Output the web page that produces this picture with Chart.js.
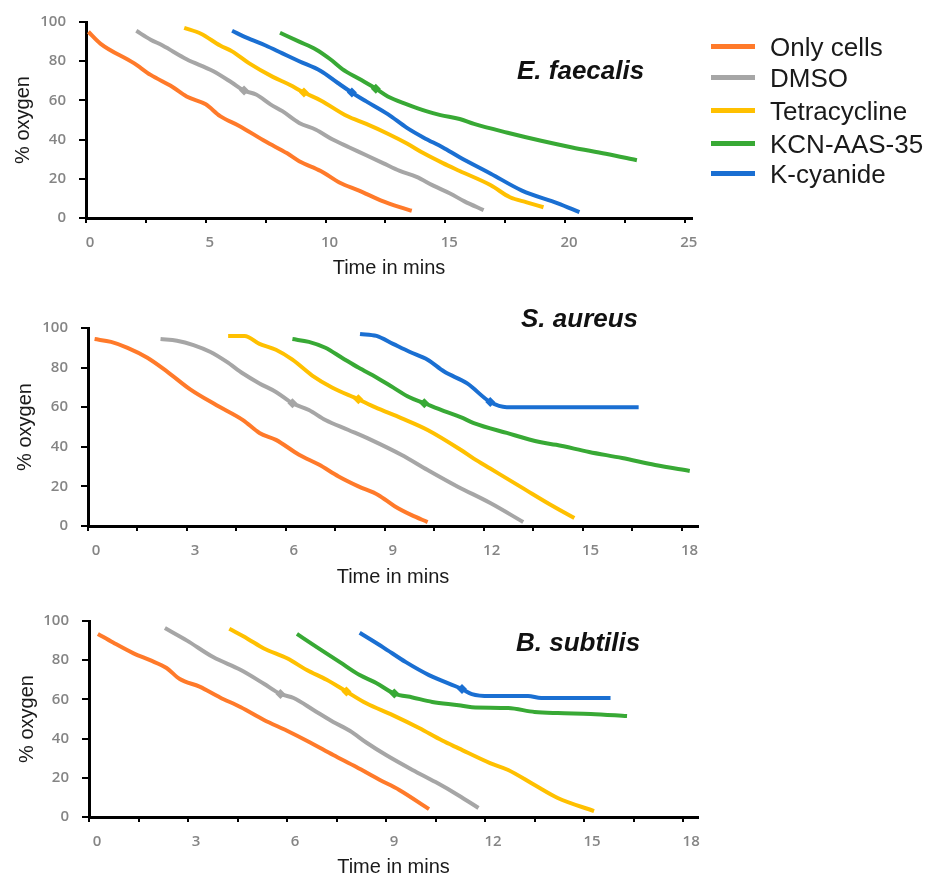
<!DOCTYPE html>
<html>
<head>
<meta charset="utf-8">
<script src="https://cdn.jsdelivr.net/npm/chart.js@4.4.1/dist/chart.umd.min.js"></script>
<style>
  body { margin: 0; width: 927px; height: 877px; overflow: hidden; background: #fff; font-family: "Liberation Sans", Arial, sans-serif; }
  canvas { position: absolute; left: 0; }
  .species { position: absolute; font: italic bold 26px "Liberation Sans", Arial, sans-serif; line-height: 26px; color: #111; white-space: nowrap; }
  .item { position: absolute; left: 711px; width: 216px; height: 26px; }
  .item .swatch { position: absolute; left: 0; top: 10px; width: 44px; height: 5px; }
  .item .lbl { position: absolute; left: 59px; top: 0; font-size: 26px; line-height: 26px; color: #1a1a1a; white-space: nowrap; }
</style>
</head>
<body>
<canvas id="efCanvas"></canvas>
<canvas id="saCanvas"></canvas>
<canvas id="bsCanvas"></canvas>
<div class="species" style="left:517px; top:57px;">E. faecalis</div>
<div class="species" style="left:521px; top:305px;">S. aureus</div>
<div class="species" style="left:516px; top:629px;">B. subtilis</div>
<div id="legend"></div>
<script>
const seriesNames = ['Only cells', 'DMSO', 'Tetracycline', 'KCN-AAS-35', 'K-cyanide'];
const seriesColors = ['#FF7A2A', '#A6A6A6', '#FFC000', '#38A935', '#1A6FD2'];
const yTicks = [0, 20, 40, 60, 80, 100];

// E. faecalis  [time (min), % oxygen]
const efOnlyCells = [[0.1,95],[0.6,89],[2.0,79],[2.7,73],[3.6,67],[4.2,62],[5.0,58],[5.6,52],[6.4,47],[7.5,39],[8.4,33],[8.9,29],[9.8,24],[10.6,18],[11.4,14],[12.3,9],[13.1,5.5],[13.6,3.7]];
const efDmso = [[2.1,95.5],[2.7,91],[3.2,88],[4.2,81],[5.3,75],[6.1,69],[6.6,65],[7.1,63],[7.7,58],[8.2,54.5],[8.9,48.5],[9.6,45],[10.3,40],[11.0,36],[11.7,32],[12.4,28],[13.1,24],[13.8,21],[14.5,16.5],[15.2,12.5],[15.8,8.5],[16.6,4]];
const efTetra = [[4.1,97],[4.8,94],[5.6,88],[6.1,85],[6.8,79],[7.8,72],[8.5,68],[9.1,64],[9.8,60],[10.9,52],[11.7,48],[12.6,43],[13.4,38],[14.1,33],[14.9,28],[15.6,24],[16.9,16.7],[17.7,10.6],[18.4,8],[19.1,5.5]];
const efKcnAas = [[8.1,94.5],[8.9,90],[9.6,86],[10.2,81],[10.7,76],[11.4,71],[12.1,66],[12.6,62],[13.4,58],[14.2,54.5],[14.8,52.5],[15.6,50.5],[16.2,48],[17.6,43.5],[19.0,39.4],[20.3,36],[21.7,32.8],[23.0,29.5]];
const efKcn = [[6.1,95.5],[6.7,92],[7.5,88],[8.2,84],[8.9,80],[9.8,75],[10.5,69],[11.1,64],[11.7,59.5],[12.6,53],[13.4,46],[14.1,41],[14.9,36],[15.6,31],[16.9,22.6],[18.2,14],[19.7,7.5],[20.6,3]];
const efMarkers = [null, 6.6, 9.1, 12.1, 11.1];

// S. aureus
const saOnlyCells = [[0.2,94.4],[0.7,93],[1.2,90],[1.8,85],[2.4,78],[3.1,69],[3.9,61],[4.7,53.5],[5.2,47],[5.7,43.5],[6.4,36],[7.0,31],[7.6,25],[8.2,20],[8.8,15.7],[9.3,10],[9.8,5.6],[10.3,2]];
const saDmso = [[2.2,94.4],[2.7,93.6],[3.2,91.4],[3.7,88],[4.2,83],[4.7,77],[5.2,72],[5.7,67.7],[6.2,62],[6.7,58.6],[7.2,53.5],[7.9,48.5],[8.6,43.4],[9.5,36],[10.3,28.3],[11.2,20],[12.2,11.6],[13.2,2]];
const saTetra = [[4.25,96],[4.75,96],[5.2,92],[5.7,89],[6.2,84],[6.8,76],[7.4,70],[8.2,64],[8.7,60],[9.5,54.5],[10.3,48.5],[11.3,38.5],[11.7,34],[12.2,29],[13.2,19],[14.0,11],[14.75,4]];
const saKcnAas = [[6.2,94.4],[6.7,93],[7.2,90],[7.7,85],[8.2,80],[8.75,75],[9.25,70],[9.75,65],[10.2,62],[10.8,58],[11.3,55],[11.7,52],[12.7,47],[13.7,42.4],[14.2,41],[15.2,37.4],[16.2,34.3],[17.2,30.8],[18.25,27.8]];
const saKcn = [[8.25,97],[8.75,96],[9.25,92],[9.75,88],[10.3,84],[10.8,78],[11.5,72],[12.2,62.6],[12.7,60],[16.7,60]];
const saMarkers = [null, 6.2, 8.2, 10.2, 12.2];

// B. subtilis
const bsOnlyCells = [[0.27,93.4],[0.73,89],[1.35,83.5],[1.85,80],[2.35,76],[2.75,70.4],[3.35,66.5],[3.97,61],[4.6,56],[5.3,49.5],[6.0,44],[6.7,38],[7.4,31.6],[8.1,25.5],[8.8,19],[9.4,13.8],[10.3,4]];
const bsDmso = [[2.3,96.4],[2.97,90],[3.76,81.6],[4.6,75],[5.3,68],[5.8,62.8],[6.2,60.7],[6.8,54.6],[7.4,48.5],[7.9,44],[8.4,38],[9.0,31.6],[9.8,24],[10.5,17.8],[11.2,11],[11.8,4.6]];
const bsTetra = [[4.25,96],[4.8,91],[5.3,86],[6.0,81],[6.6,75],[7.2,70],[7.8,64],[8.4,58],[9.2,52],[10.0,45.4],[10.7,39],[11.2,35],[12.15,27.5],[12.7,24],[13.5,16.3],[14.2,9.7],[15.3,3]];
const bsKcnAas = [[6.3,93.4],[6.9,86.7],[7.6,79],[8.2,72.4],[8.7,68.4],[9.25,63],[9.8,61],[10.4,58.7],[11.2,57],[11.6,56],[12.7,55.6],[13.5,53.6],[14.2,53],[15.2,52.6],[16.3,51.5]];
const bsKcn = [[8.2,94],[8.9,86.7],[9.6,79],[10.3,72.4],[11.3,65.3],[11.6,62.7],[12.15,61.7],[13.3,61.7],[13.7,60.7],[15.8,60.7]];
const bsMarkers = [null, 5.8, 7.8, 9.25, 11.3];

const tickColor = '#858585';
const tickFont = { family: '"Open Sans", sans-serif', size: 15, weight: '600' };
const titleFont = { family: '"Liberation Sans", Arial, sans-serif', size: 20 };

const isMultiple = (v, step) => Math.abs(v / step - Math.round(v / step)) < 1e-6;

function makePanel(id, series, markers, g) {
  const canvas = document.getElementById(id);
  canvas.width = 927;
  canvas.height = g.h;
  canvas.style.top = g.canvasTop + 'px';

  new Chart(canvas, {
    type: 'line',
    data: {
      datasets: series.map((pts, i) => ({
        label: seriesNames[i],
        data: pts.map(p => ({ x: p[0], y: p[1] })),
        borderColor: seriesColors[i],
        backgroundColor: seriesColors[i],
        pointBackgroundColor: seriesColors[i],
        borderWidth: 4,
        cubicInterpolationMode: 'monotone',
        fill: false,
        pointStyle: 'rectRot',
        pointBorderWidth: 0,
        pointRadius: ctx => (ctx.raw && ctx.raw.x === markers[i]) ? 5 : 0
      }))
    },
    options: {
      responsive: false,
      animation: false,
      devicePixelRatio: 1,
      layout: { padding: { top: g.top - g.canvasTop, right: 927 - g.right, bottom: 0, left: 0 } },
      plugins: { legend: { display: false }, tooltip: { enabled: false } },
      scales: {
        x: {
          type: 'linear',
          min: 0,
          max: g.xMax,
          afterFit: s => { s.height = g.canvasTop + g.h - g.bottom; },
          border: { display: true, color: '#000', width: 3 },
          grid: { drawOnChartArea: false, drawTicks: true, tickLength: 5, color: '#000', lineWidth: 2 },
          ticks: {
            stepSize: g.step,
            includeBounds: false,
            autoSkip: false,
            maxRotation: 0,
            labelOffset: g.labelOffset,
            padding: 11,
            color: tickColor,
            font: tickFont,
            callback: v => isMultiple(v, g.labelEvery) ? String(v) : ''
          },
          title: { display: true, text: 'Time in mins', color: '#1a1a1a', font: titleFont, padding: { top: 0, bottom: g.xTitlePad } }
        },
        y: {
          min: 0,
          max: 100,
          afterFit: s => { s.width = g.left; },
          afterBuildTicks: s => { s.ticks = yTicks.map(v => ({ value: v })); },
          border: { display: true, color: '#000', width: 3 },
          grid: { drawOnChartArea: false, drawTicks: true, tickLength: 7, color: '#000', lineWidth: 2 },
          ticks: { padding: 13, color: tickColor, font: tickFont },
          title: { display: true, text: '% oxygen', color: '#1a1a1a', font: titleFont, padding: { top: g.yTitlePad, bottom: 0 } }
        }
      }
    }
  });
}

makePanel('efCanvas', [efOnlyCells, efDmso, efTetra, efKcnAas, efKcn], efMarkers,
  { canvasTop: 0, h: 290, top: 20, bottom: 218, left: 86, right: 692, xMax: 25.3, step: 2.5, labelEvery: 5, labelOffset: 4, xTitlePad: 10, yTitlePad: 11 });
makePanel('saCanvas', [saOnlyCells, saDmso, saTetra, saKcnAas, saKcn], saMarkers,
  { canvasTop: 290, h: 300, top: 328, bottom: 526, left: 88, right: 698, xMax: 18.5, step: 1.5, labelEvery: 3, labelOffset: 8, xTitlePad: 1, yTitlePad: 13 });
makePanel('bsCanvas', [bsOnlyCells, bsDmso, bsTetra, bsKcnAas, bsKcn], bsMarkers,
  { canvasTop: 590, h: 300, top: 621, bottom: 817, left: 89, right: 698, xMax: 18.45, step: 1.5, labelEvery: 3, labelOffset: 8, xTitlePad: 11, yTitlePad: 15 });

// legend for the top panel
const legendRows = [34, 65, 98, 131, 161];
const legend = document.getElementById('legend');
seriesNames.forEach((name, i) => {
  const item = document.createElement('div');
  item.className = 'item';
  item.style.top = legendRows[i] + 'px';
  item.innerHTML = '<span class="swatch" style="background:' + seriesColors[i] + '"></span><span class="lbl">' + name + '</span>';
  legend.appendChild(item);
});
</script>
</body>
</html>
